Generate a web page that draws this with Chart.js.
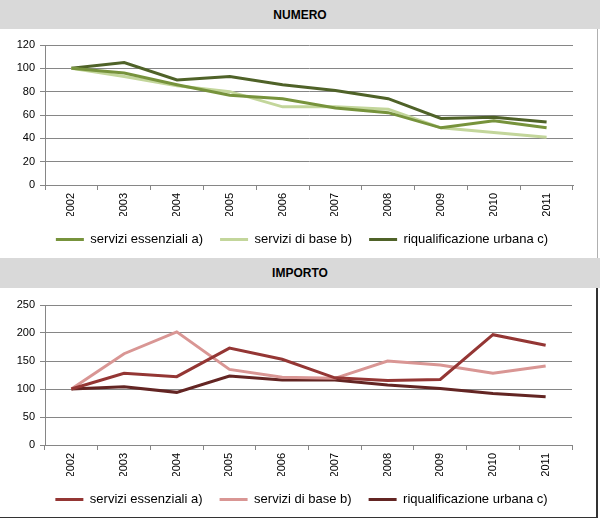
<!DOCTYPE html>
<html>
<head>
<meta charset="utf-8">
<script src="https://cdn.jsdelivr.net/npm/chart.js@4/dist/chart.umd.min.js"></script>
<style>
  body { margin: 0; background: #fff; font-family: 'Liberation Sans', Arial, sans-serif; }
  .head { position: absolute; left: 0; width: 600px; background: #d9d9d9; text-align: center; font-weight: bold; font-size: 12px; color: #000; }
  .box { position: absolute; left: 0; width: 597px; height: 229px; }
</style>
</head>
<body>
<div class="head" style="top:0;height:29px;line-height:31px;">NUMERO</div>
<div class="box" style="top:29px;border-right:1px solid #b0b0b0;"><canvas id="numeroChart"></canvas></div>
<div class="head" style="top:258px;height:30px;line-height:31px;">IMPORTO</div>
<div class="box" style="top:288px;border-right:2px solid #333;border-bottom:2px solid #333;width:596px;"><canvas id="importoChart"></canvas></div>
<script>
const years = ['2002', '2003', '2004', '2005', '2006', '2007', '2008', '2009', '2010', '2011'];
const seriesNames = ['servizi essenziali a)', 'servizi di base b)', 'riqualificazione urbana c)'];

// NUMERO (indice 2002 = 100)
const numEssenziali = [100, 96, 86, 77, 74, 66, 62, 49, 55, 49];
const numBase = [100, 93, 85, 80, 67, 67, 65, 49, 45, 41];
const numRiqualificazione = [100, 105, 90, 93, 86, 81, 74, 57, 58, 54];

// IMPORTO (indice 2002 = 100)
const impEssenziali = [100, 128, 122, 173, 153, 120, 115, 117, 197, 178];
const impBase = [100, 163, 202, 135, 121, 119, 150, 143, 128, 141];
const impRiqualificazione = [100, 104, 94, 123, 116, 116, 107, 101, 92, 86];

const numColors = ['#77933c', '#c3d69b', '#4f6228'];
const impColors = ['#943634', '#d99694', '#632523'];

// legend sits a bit to the right of the canvas centre, as in the original
const legendShift = {
  id: 'legendShift',
  afterLayout: function (chart) { chart.legend.left += 31; }
};

function makeChart(id, seriesData, colors, maxY, step, topPad) {
  const ctx = document.getElementById(id).getContext('2d');
  return new Chart(ctx, {
    type: 'line',
    data: {
      labels: years,
      datasets: seriesData.map(function (d, i) {
        return {
          label: seriesNames[i],
          data: d,
          borderColor: colors[i],
          backgroundColor: colors[i],
          borderWidth: 3,
          pointRadius: 0,
          tension: 0
        };
      })
    },
    plugins: [legendShift],
    options: {
      responsive: true,
      maintainAspectRatio: false,
      animation: false,
      layout: { padding: { top: topPad, right: 24, bottom: 2 - (topPad - 16), left: 0 } },
      plugins: {
        tooltip: { enabled: false },
        legend: {
          position: 'bottom',
          labels: {
            usePointStyle: true,
            pointStyle: 'line',
            pointStyleWidth: 28,
            padding: 17,
            color: '#000',
            font: { family: "'Liberation Sans', Arial", size: 13 }
          }
        }
      },
      scales: {
        x: {
          offset: true,
          grid: { offset: true, drawOnChartArea: false, drawTicks: true, tickLength: 5, color: '#868686' },
          border: { color: '#868686' },
          ticks: {
            minRotation: 90, maxRotation: 90, padding: 3, color: '#000',
            font: { family: "'Liberation Sans', Arial", size: 11 }
          },
          afterFit: function (scale) { scale.height = 31; }
        },
        y: {
          min: 0, max: maxY,
          grid: { color: '#868686', tickLength: 5 },
          border: { color: '#868686' },
          ticks: {
            stepSize: step, padding: 5, color: '#000',
            font: { family: "'Liberation Sans', Arial", size: 11 }
          },
          afterFit: function (scale) { scale.width = 45; }
        }
      }
    }
  });
}

document.addEventListener('DOMContentLoaded', function () {
  makeChart('numeroChart', [numEssenziali, numBase, numRiqualificazione], numColors, 120, 20, 16);
  makeChart('importoChart', [impEssenziali, impBase, impRiqualificazione], impColors, 250, 50, 17);
});
</script>
</body>
</html>
